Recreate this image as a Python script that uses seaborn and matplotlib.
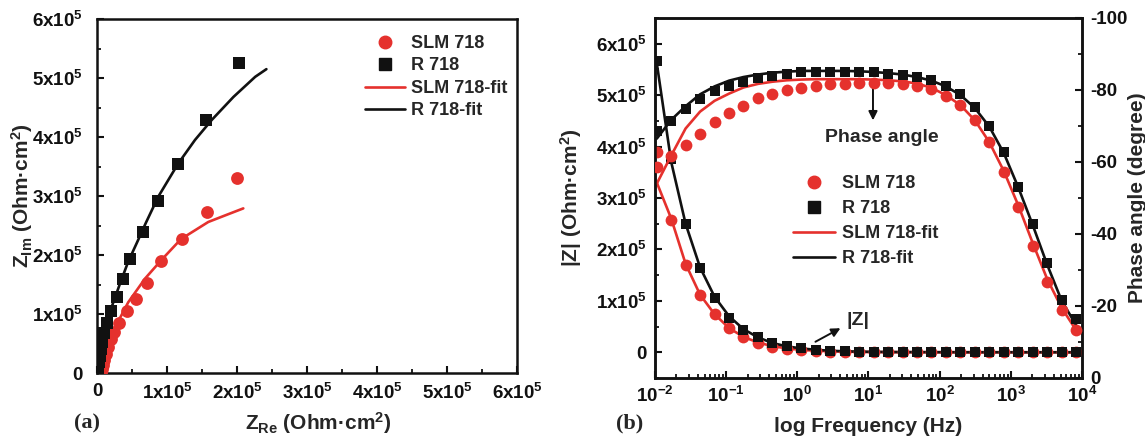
import numpy as np
import pandas as pd
import seaborn as sns
import matplotlib.pyplot as plt
from matplotlib.lines import Line2D
from matplotlib.ticker import MultipleLocator, LogLocator, NullFormatter

# ---- (a) Nyquist data, values in units of 1e5 Ohm.cm2 ----
slm_re = [2.00, 1.57, 1.21, 0.91, 0.72, 0.56, 0.424, 0.315, 0.24, 0.195, 0.162, 0.129, 0.105, 0.086, 0.067, 0.05]
slm_im = [3.31, 2.73, 2.27, 1.89, 1.53, 1.26, 1.05, 0.85, 0.70, 0.575, 0.435, 0.32, 0.22, 0.135, 0.06, 0.02]
r_re = [2.03, 1.55, 1.16, 0.876, 0.662, 0.47, 0.376, 0.28, 0.195, 0.138, 0.105, 0.076, 0.057, 0.043, 0.029, 0.019, 0.012, 0.006]
r_im = [5.26, 4.29, 3.55, 2.91, 2.39, 1.93, 1.59, 1.29, 1.05, 0.85, 0.68, 0.53, 0.40, 0.29, 0.19, 0.107, 0.05, 0.015]

slm_fit_re = [0.065, 0.12, 0.20, 0.305, 0.447, 0.686, 0.924, 1.20, 1.59, 1.85, 2.09]
slm_fit_im = [0.0, 0.25, 0.52, 0.88, 1.20, 1.60, 1.92, 2.27, 2.56, 2.68, 2.79]
r_fit_re = [0.06, 0.10, 0.138, 0.21, 0.33, 0.447, 0.567, 0.70, 0.876, 1.16, 1.40, 1.64, 1.95, 2.26, 2.42]
r_fit_im = [0.0, 0.40, 0.785, 1.12, 1.52, 1.89, 2.20, 2.55, 2.99, 3.55, 3.95, 4.29, 4.68, 5.02, 5.15]

# ---- (b) Bode data ----
freq = [0.0106, 0.0169, 0.0269, 0.0430, 0.0687, 0.110, 0.175, 0.280, 0.446, 0.713,
        1.14, 1.82, 2.90, 4.63, 7.39, 11.8, 18.9, 30.1, 48.0, 76.7,
        122, 196, 312, 499, 796, 1270, 2030, 3240, 5170, 8260]

slm_z = [3.90, 2.57, 1.69, 1.11, 0.74, 0.48, 0.30, 0.19, 0.10, 0.06,
         0.035, 0.02, 0.012, 0.008, 0.005, 0.004, 0.003, 0.002, 0.002, 0.001,
         0.001, 0.001, 0.001, 0.001, 0.0005, 0.0005, 0.0005, 0.0005, 0.0005, 0.0005]
r_z = [5.66, 3.75, 2.49, 1.63, 1.06, 0.67, 0.43, 0.30, 0.19, 0.12,
       0.08, 0.05, 0.03, 0.02, 0.013, 0.009, 0.006, 0.004, 0.003, 0.002,
       0.002, 0.001, 0.001, 0.001, 0.001, 0.0005, 0.0005, 0.0005, 0.0005, 0.0005]
slm_z_fit = [3.30, 2.60, 1.72, 1.12, 0.74, 0.47, 0.30, 0.19, 0.12, 0.075,
             0.047, 0.03, 0.019, 0.012, 0.008, 0.005, 0.003, 0.002, 0.002, 0.001,
             0.001, 0.001, 0.001, 0.001, 0.0005, 0.0005, 0.0005, 0.0005, 0.0005, 0.0005]
r_z_fit = [5.62, 3.70, 2.50, 1.65, 1.08, 0.70, 0.45, 0.29, 0.18, 0.115,
           0.075, 0.048, 0.03, 0.019, 0.012, 0.008, 0.005, 0.004, 0.003, 0.002,
           0.002, 0.001, 0.001, 0.001, 0.001, 0.0005, 0.0005, 0.0005, 0.0005, 0.0005]

slm_phase = [58.7, 61.8, 64.7, 67.9, 71.2, 73.5, 75.6, 77.7, 79.0, 79.9,
             80.5, 81.1, 81.6, 81.8, 82.0, 82.0, 82.0, 81.6, 81.2, 80.2,
             78.4, 75.9, 71.7, 65.5, 57.1, 47.5, 36.8, 26.7, 18.8, 13.3]
r_phase = [68.7, 71.4, 74.7, 77.4, 79.7, 81.1, 82.3, 83.2, 83.9, 84.4,
           85.0, 85.1, 85.1, 85.1, 85.1, 85.0, 84.5, 84.2, 83.7, 82.7,
           81.2, 78.9, 75.3, 70.1, 62.7, 53.0, 42.8, 31.9, 21.6, 16.5]
slm_phase_fit = [54.0, 61.8, 69.3, 74.0, 77.0, 79.0, 80.7, 81.7, 82.3, 82.7,
                 82.9, 83.0, 83.0, 83.0, 83.0, 82.9, 82.7, 82.4, 81.8, 80.6,
                 78.6, 75.8, 71.6, 65.5, 57.5, 48.0, 37.5, 27.5, 19.5, 13.3]
r_phase_fit = [66.5, 71.7, 75.5, 78.8, 81.0, 82.6, 83.6, 84.3, 84.8, 85.1,
               85.3, 85.3, 85.3, 85.3, 85.2, 85.0, 84.7, 84.3, 83.6, 82.6,
               81.0, 78.6, 75.0, 69.8, 62.5, 53.0, 42.5, 31.5, 21.5, 14.7]

RED = '#e5312d'
BLACK = '#111111'
E5 = 1e5

sns.set_style('ticks')
plt.rcParams['font.family'] = ['Liberation Sans', 'DejaVu Sans']
plt.rcParams['font.weight'] = 'bold'
plt.rcParams['axes.labelweight'] = 'bold'
plt.rcParams['mathtext.fontset'] = 'custom'
plt.rcParams['mathtext.rm'] = 'Liberation Sans:bold'
plt.rcParams['mathtext.it'] = 'Liberation Sans:bold'
plt.rcParams['mathtext.bf'] = 'Liberation Sans:bold'
plt.rcParams['mathtext.default'] = 'rm'
plt.rcParams['axes.unicode_minus'] = False
plt.rcParams['axes.linewidth'] = 1.8
plt.rcParams['axes.edgecolor'] = BLACK

fig = plt.figure(figsize=(11.45, 4.42), dpi=100)
ax1 = fig.add_axes([97 / 1145, 1 - 373 / 442, 420 / 1145, 354 / 442])
ax2 = fig.add_axes([655 / 1145, 1 - 378 / 442, 427 / 1145, 360 / 442])
ax3 = ax2.twinx()

LW = 1.9
tick_kw = dict(direction='in', width=1.5, labelsize=13.5, colors=BLACK)

# ---------------- (a) Nyquist ----------------
nyq_slm = pd.DataFrame({'re': np.array(slm_re) * E5, 'im': np.array(slm_im) * E5})
nyq_r = pd.DataFrame({'re': np.array(r_re) * E5, 'im': np.array(r_im) * E5})
fit_slm = pd.DataFrame({'re': np.array(slm_fit_re) * E5, 'im': np.array(slm_fit_im) * E5})
fit_r = pd.DataFrame({'re': np.array(r_fit_re) * E5, 'im': np.array(r_fit_im) * E5})

sns.lineplot(data=fit_slm, x='re', y='im', sort=False, estimator=None, color=RED, lw=LW, ax=ax1)
sns.lineplot(data=fit_r, x='re', y='im', sort=False, estimator=None, color=BLACK, lw=LW, ax=ax1)
sns.scatterplot(data=nyq_slm, x='re', y='im', marker='o', s=85, color=RED, linewidth=0, ax=ax1, zorder=3)
sns.scatterplot(data=nyq_r, x='re', y='im', marker='s', s=70, color=BLACK, linewidth=0, ax=ax1, zorder=3)

ax1.set_xlim(0, 6 * E5)
ax1.set_ylim(0, 6 * E5)
ticks_a = [i * E5 for i in range(7)]
labels_a = ['0'] + [f'{i}x10$^5$' for i in range(1, 7)]
ax1.set_xticks(ticks_a, labels_a)
ax1.set_yticks(ticks_a, labels_a)
ax1.xaxis.set_minor_locator(MultipleLocator(0.5 * E5))
ax1.yaxis.set_minor_locator(MultipleLocator(0.5 * E5))
ax1.tick_params(which='major', length=5, **tick_kw)
ax1.tick_params(which='minor', length=3, direction='in', width=1.3, colors=BLACK)
ax1.tick_params(axis='y', which='major', pad=10)
ax1.tick_params(axis='x', which='major', pad=7)
ax1.set_xlabel('Z$_{Re}$ (Ohm·cm$^2$)', fontsize=15)
ax1.set_ylabel('Z$_{Im}$ (Ohm·cm$^2$)', fontsize=15)
ax1.xaxis.label.set_va('center')
ax1.yaxis.label.set_va('center')
ax1.xaxis.set_label_coords(0.526, -0.141)
ax1.yaxis.set_label_coords(-0.179, 0.5)

# ---------------- (b) Bode ----------------
bode = pd.DataFrame({
    'f': freq,
    'slm_z': np.array(slm_z) * E5, 'r_z': np.array(r_z) * E5,
    'slm_z_fit': np.array(slm_z_fit) * E5, 'r_z_fit': np.array(r_z_fit) * E5,
    'slm_ph': -np.array(slm_phase), 'r_ph': -np.array(r_phase),
    'slm_ph_fit': -np.array(slm_phase_fit), 'r_ph_fit': -np.array(r_phase_fit),
})

sns.lineplot(data=bode, x='f', y='slm_z_fit', color=RED, lw=LW, ax=ax2)
sns.lineplot(data=bode, x='f', y='r_z_fit', color=BLACK, lw=LW, ax=ax2)
sns.scatterplot(data=bode, x='f', y='slm_z', marker='o', s=72, color=RED, linewidth=0, ax=ax2, zorder=3)
sns.scatterplot(data=bode, x='f', y='r_z', marker='s', s=60, color=BLACK, linewidth=0, ax=ax2, zorder=3)

sns.lineplot(data=bode, x='f', y='slm_ph_fit', color=RED, lw=LW, ax=ax3)
sns.lineplot(data=bode, x='f', y='r_ph_fit', color=BLACK, lw=LW, ax=ax3)
sns.scatterplot(data=bode, x='f', y='slm_ph', marker='o', s=72, color=RED, linewidth=0, ax=ax3, zorder=3)
sns.scatterplot(data=bode, x='f', y='r_ph', marker='s', s=60, color=BLACK, linewidth=0, ax=ax3, zorder=3)

ax2.set_xscale('log')
ax2.set_xlim(1e-2, 1e4)
ax2.set_ylim(-0.5 * E5, 6.5 * E5)
ax2.set_xticks([10.0 ** p for p in range(-2, 5)], [f'10$^{{{p}}}$' for p in range(-2, 5)])
ax2.xaxis.set_minor_locator(LogLocator(base=10, subs=np.arange(2, 10)))
ax2.xaxis.set_minor_formatter(NullFormatter())
ticks_b = [i * E5 for i in range(7)]
ax2.set_yticks(ticks_b, ['0'] + [f'{i}x10$^5$' for i in range(1, 7)])
ax2.yaxis.set_minor_locator(MultipleLocator(0.5 * E5))
ax2.tick_params(which='major', length=5, pad=6, **tick_kw)
ax2.tick_params(which='minor', length=3, direction='in', width=1.3, colors=BLACK)
ax2.set_xlabel('log Frequency (Hz)', fontsize=15)
ax2.set_ylabel('|Z| (Ohm·cm$^2$)', fontsize=15)
ax2.xaxis.label.set_va('center')
ax2.yaxis.label.set_va('center')
ax2.xaxis.set_label_coords(0.5, -0.136)
ax2.yaxis.set_label_coords(-0.197, 0.5)

ax3.set_ylim(0, -100)
ax3.set_yticks([0, -20, -40, -60, -80, -100], ['0', '-20', '-40', '-60', '-80', '-100'])
ax3.yaxis.set_minor_locator(MultipleLocator(10))
ax3.tick_params(which='major', length=5, pad=6, **tick_kw)
ax3.tick_params(which='minor', length=3, direction='in', width=1.3, colors=BLACK)
ax3.set_ylabel('Phase angle (degree)', fontsize=15, rotation=90)
ax3.yaxis.label.set_va('center')
ax3.yaxis.set_label_coords(1.129, 0.5)

for ax in (ax1, ax2, ax3):
    for sp in ax.spines.values():
        sp.set_visible(True)
        sp.set_linewidth(1.8)
        sp.set_color(BLACK)
ax1.tick_params(top=False, right=False, which='both')
ax2.tick_params(top=False, right=False, which='both')

# annotations in (b)
ax2.annotate('', xy=(0.5105, 0.708), xytext=(0.5105, 0.822), xycoords='axes fraction',
             arrowprops=dict(arrowstyle='-|>', color=BLACK, lw=1.4, mutation_scale=13))
ax2.text(0.532, 0.669, 'Phase angle', transform=ax2.transAxes, ha='center', va='center', fontsize=14)
ax2.annotate('', xy=(0.440, 0.142), xytext=(0.370, 0.097), xycoords='axes fraction',
             arrowprops=dict(arrowstyle='-|>', color=BLACK, lw=1.4, mutation_scale=13))
ax2.text(0.475, 0.161, '|Z|', transform=ax2.transAxes, ha='center', va='center', fontsize=14)

# legends
handles = [
    Line2D([], [], ls='none', marker='o', ms=9, color=RED),
    Line2D([], [], ls='none', marker='s', ms=8, color=BLACK),
    Line2D([], [], color=RED, lw=LW),
    Line2D([], [], color=BLACK, lw=LW),
]
names = ['SLM 718', 'R 718', 'SLM 718-fit', 'R 718-fit']
fig.legend(handles, names, loc='upper left', bbox_to_anchor=(365 / 1145, 1 - 35 / 442),
           frameon=False, fontsize=13, handlelength=2.2, handletextpad=0.35,
           labelspacing=0.3, borderpad=0, borderaxespad=0)
fig.legend(handles, names, loc='upper left', bbox_to_anchor=(793 / 1145, 1 - 175 / 442),
           frameon=False, fontsize=13, handlelength=2.3, handletextpad=0.4,
           labelspacing=0.45, borderpad=0, borderaxespad=0)

# panel letters
fig.text(87 / 1145, 1 - 423 / 442, '(a)', family='Liberation Serif', fontweight='bold',
         fontsize=16, ha='center', va='center')
fig.text(630 / 1145, 1 - 423 / 442, '(b)', family='Liberation Serif', fontweight='bold',
         fontsize=16, ha='center', va='center')

plt.savefig('out.png', dpi=100)
